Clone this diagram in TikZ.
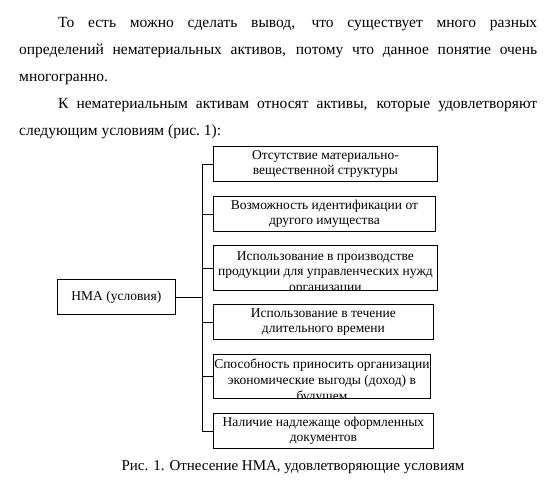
\documentclass[tikz,border=0pt]{standalone}
\usepackage{fontspec}
\setmainfont{Liberation Serif}
\usetikzlibrary{positioning}
\tikzstyle{txtline} = [anchor=base west, inner sep=0pt, font=\fontsize{15.5}{18}\selectfont]
\tikzstyle{cond_box} = [rectangle, draw=black, thick, inner sep=0pt, anchor=north west]
\tikzstyle{cond_txt} = [anchor=north, inner sep=0pt, align=center, font=\fontsize{13.5}{15.6}\selectfont]
\tikzstyle{bus} = [-, thick]
\begin{document}
\begin{tikzpicture}[x=1pt,y=-1pt]
\useasboundingbox (0,0) rectangle (552,498);
% paragraph above the figure
\node [txtline] (p1) at (58,27) {\makebox[479pt][s]{То есть можно сделать вывод, что существует много разных}};
\node [txtline] (p2) at (19,54) {\makebox[518pt][s]{определений нематериальных активов, потому что данное понятие очень}};
\node [txtline] (p3) at (19,81) {многогранно.};
\node [txtline] (p4) at (58,108) {\makebox[479pt][s]{К нематериальным активам относят активы, которые удовлетворяют}};
\node [txtline] (p5) at (19,135) {следующим условиям (рис.~1):};
% root
\node [cond_box, minimum width=118pt, minimum height=35pt] (nma) at (57,279) {};
\node [cond_txt, anchor=center] at (nma.center) {НМА (условия)};
% conditions
\node [cond_box, minimum width=224pt, minimum height=35pt] (c1) at (213,146) {};
\node [cond_txt, anchor=center] at (c1.center) {Отсутствие материально-\\вещественной структуры};
\node [cond_box, minimum width=222pt, minimum height=35pt] (c2) at (213,196) {};
\node [cond_txt, anchor=center] at (c2.center) {Возможность идентификации от\\другого имущества};
\node [cond_box, minimum width=224pt, minimum height=45pt] (c3) at (213,245) {};
\begin{scope}
\clip (c3.north west) rectangle (c3.south east);
\node [cond_txt] at ([yshift=-6pt]c3.north) {Использование в производстве\\продукции для управленческих нужд\\организации};
\end{scope}
\node [cond_box, minimum width=220pt, minimum height=35pt] (c4) at (213,304) {};
\node [cond_txt, anchor=center] at (c4.center) {Использование в течение\\длительного времени};
\node [cond_box, minimum width=217pt, minimum height=44pt] (c5) at (213,354) {};
\begin{scope}
\clip (c5.north west) rectangle (c5.south east);
\node [cond_txt] at ([yshift=-5pt]c5.north) {Способность приносить организации\\экономические выгоды (доход) в\\будущем};
\end{scope}
\node [cond_box, minimum width=220pt, minimum height=35pt] (c6) at (213,413) {};
\node [cond_txt, anchor=center] at (c6.center) {Наличие надлежаще оформленных\\документов};
% connectors
\coordinate (top) at (202,0 |- c1.west);
\coordinate (bot) at (202,0 |- c6.west);
\draw [bus] (top) -- (bot);
\draw [bus] (nma.east) -- (nma.east -| top);
\foreach \c in {c1,c2,c3,c4,c5,c6}
    \draw [bus] (\c.west -| top) -- (\c.west);
% caption
\node [txtline, anchor=base, font=\fontsize{15}{17}\selectfont] (cap) at (293,470) {Рис. 1. Отнесение НМА, удовлетворяющие условиям};
\end{tikzpicture}
\end{document}
